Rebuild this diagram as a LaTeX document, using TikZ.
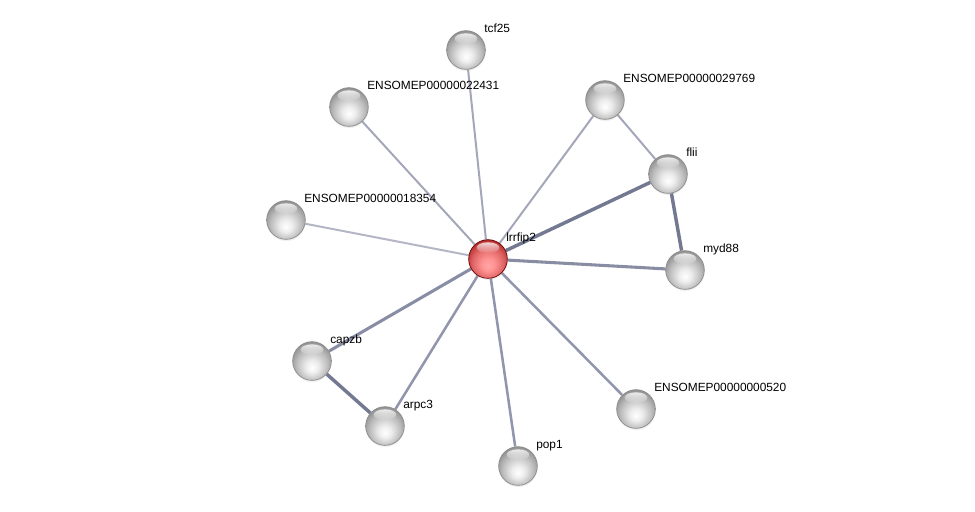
\documentclass[tikz,border=0pt]{standalone}
\usepackage{fontspec}
\setmainfont{Liberation Sans}
\usetikzlibrary{backgrounds,shadows,shapes.geometric,fadings}
\pgfdeclareradialshading{graysph}{\pgfpoint{0bp}{-9bp}}{color(0bp)=(white); color(8bp)=(white!93!black); color(20bp)=(white!74!black); color(28bp)=(white!58!black); color(34bp)=(white!47!black); color(50bp)=(white!40!black)}
\pgfdeclareradialshading{redsph}{\pgfpoint{0bp}{-9bp}}{color(0bp)=(red!35!white); color(8bp)=(red!42!white); color(20bp)=(red!55!white!88!black); color(28bp)=(red!65!black!80!white); color(34bp)=(red!60!black); color(50bp)=(red!50!black)}
\definecolor{elight}{HTML}{B4B6C6}
\definecolor{emid}{HTML}{A4A7BA}
\definecolor{emed}{HTML}{9296AC}
\definecolor{edark}{HTML}{747992}
\tikzset{
  prot/.style={circle, minimum size=29pt, inner sep=0pt, shading=graysph, draw=black!45, line width=0.5pt,
    circular drop shadow={shadow xshift=0pt, shadow yshift=-1.2pt, shadow scale=1.02, opacity=0.25}},
  qprot/.style={prot, shading=redsph, draw=red!40!black},
  hl/.style={fill=white, fill opacity=0.8, path fading=south, draw=none, ellipse, minimum width=17pt, minimum height=8pt, inner sep=0pt},
  lbl/.style={anchor=base west, inner sep=0pt, font=\fontsize{8.9}{10}\selectfont, text=black},
  ethin/.style={draw=emid, line width=1.5pt},
  elite/.style={draw=elight, line width=1.5pt},
  emedium/.style={draw=emed, line width=1.9pt},
  ethick/.style={draw=emed!70!edark, line width=2.3pt},
  estrong/.style={draw=edark, line width=2.6pt},
}
\begin{document}
\begin{tikzpicture}[x=0.75pt, y=-0.75pt]
\useasboundingbox (0,0) rectangle (975,511);
% nodes
\node[qprot] (L) at (488,259) {};
\node[prot] (tcf) at (466,50) {};
\node[prot] (e224) at (349,107) {};
\node[prot] (e297) at (605,100) {};
\node[prot] (flii) at (668,174) {};
\node[prot] (e183) at (286,220) {};
\node[prot] (myd) at (685,270) {};
\node[prot] (capzb) at (312,361) {};
\node[prot] (arpc) at (385,426) {};
\node[prot] (e520) at (636,409) {};
\node[prot] (pop) at (518,466) {};
% highlights
\foreach \n in {L,tcf,e224,e297,flii,e183,myd,capzb,arpc,e520,pop}{
  \node[hl] (h\n) at ([yshift=8.5pt]\n.center) {};
}
% edges
\begin{pgfonlayer}{background}
\draw[ethin] (L) -- (tcf);
\draw[ethin] (L) -- (e224);
\draw[ethin] (L) -- (e297);
\draw[elite] (L) -- (e183);
\draw[estrong] (L) -- (flii);
\draw[ethick] (L) -- (myd);
\draw[ethick] (L) -- (capzb);
\draw[emedium] (L) -- (arpc);
\draw[emedium] (L) -- (e520);
\draw[emedium] (L) -- (pop);
\draw[ethin] (e297) -- (flii);
\draw[estrong] (flii) -- (myd);
\draw[estrong] (capzb) -- (arpc);
\end{pgfonlayer}
% labels
\node[lbl] (tL) at ([xshift=13.5pt, yshift=13.5pt]L.center) {lrrfip2};
\node[lbl] (ttcf) at ([xshift=13.5pt, yshift=13.5pt]tcf.center) {tcf25};
\node[lbl] (te224) at ([xshift=13.5pt, yshift=13.5pt]e224.center) {ENSOMEP00000022431};
\node[lbl] (te297) at ([xshift=13.5pt, yshift=13.5pt]e297.center) {ENSOMEP00000029769};
\node[lbl] (tflii) at ([xshift=13.5pt, yshift=13.5pt]flii.center) {flii};
\node[lbl] (te183) at ([xshift=13.5pt, yshift=13.5pt]e183.center) {ENSOMEP00000018354};
\node[lbl] (tmyd) at ([xshift=13.5pt, yshift=13.5pt]myd.center) {myd88};
\node[lbl] (tcapzb) at ([xshift=13.5pt, yshift=13.5pt]capzb.center) {capzb};
\node[lbl] (tarpc) at ([xshift=13.5pt, yshift=13.5pt]arpc.center) {arpc3};
\node[lbl] (te520) at ([xshift=13.5pt, yshift=13.5pt]e520.center) {ENSOMEP00000000520};
\node[lbl] (tpop) at ([xshift=13.5pt, yshift=13.5pt]pop.center) {pop1};
\end{tikzpicture}
\end{document}
